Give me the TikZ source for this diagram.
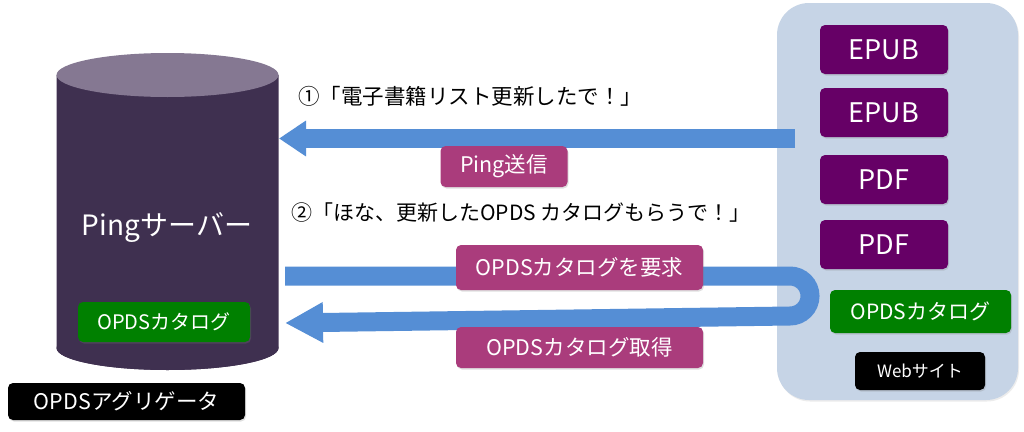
\documentclass[tikz,border=0pt]{standalone}
\usepackage{fontspec}
\setmainfont{Noto Sans CJK JP}
\usetikzlibrary{arrows.meta,shadows}
\definecolor{cylbody}{HTML}{3F3050}
\definecolor{cyltop}{HTML}{857892}
\definecolor{arrowblue}{HTML}{558ED5}
\definecolor{magbox}{HTML}{AA3C7C}
\definecolor{filebox}{HTML}{660066}
\definecolor{catgreen}{HTML}{008000}
\definecolor{panelcol}{HTML}{C6D4E6}
\newcommand{\fs}[1]{\fontsize{#1}{#1}\selectfont}
\tikzset{
  boxbase/.style={rounded corners=5pt, inner sep=0pt, text=white,
    drop shadow={opacity=0.25, shadow xshift=1pt, shadow yshift=-1.5pt}},
  filebox/.style={boxbase, fill=filebox, minimum width=128pt, minimum height=49pt, font=\fs{27}},
  greenbox/.style={boxbase, fill=catgreen},
  blackbox/.style={boxbase, fill=black},
  labelbox/.style={boxbase, fill=magbox, font=\fs{21.5}},
  fatarrow/.style={draw=arrowblue, line width=19pt},
}
\begin{document}
\begin{tikzpicture}[x=1pt,y=-1pt]
\useasboundingbox (0,0) rectangle (1024,431);
\fill[white] (0,0) rectangle (1024,431);
% Website panel
\node[fill=panelcol, rounded corners=32pt, minimum width=241pt, minimum height=397pt,
  inner sep=0pt, drop shadow={opacity=0.15, shadow xshift=1pt, shadow yshift=-1.5pt}] (web) at (897.5,201.5) {};
\node[filebox] (epub1) at (884,49.5) {EPUB};
\node[filebox] (epub2) at (884,112.5) {EPUB};
\node[filebox] (pdf1) at (884,179.5) {PDF};
\node[filebox] (pdf2) at (884,244.5) {PDF};
\node[greenbox, minimum width=181pt, minimum height=43pt, font=\fs{21}] (webcat) at (920.5,311.5) {OPDSカタログ};
\node[blackbox, minimum width=130pt, minimum height=38pt, font=\fs{17}] (websign) at (920,371) {Webサイト};
% Cylinder (server)
\fill[cylbody] (56.5,75) -- (56.5,348) arc[start angle=180, end angle=360, x radius=111, y radius=-22] -- (278.5,75) -- cycle;
\fill[cylbody] (167.5,348) ellipse[x radius=111, y radius=22];
\fill[cyltop] (167.5,75) ellipse[x radius=111, y radius=22];
\node[inner sep=0pt, minimum width=222pt, minimum height=317pt] (srv) at (167.5,211.5) {};
\node[text=white, font=\fs{28}] (srvlabel) at (167,228) {Pingサーバー};
\node[greenbox, minimum width=172pt, minimum height=40pt, font=\fs{20}] (srvcat) at (164,322) {OPDSカタログ};
\node[blackbox, minimum width=237pt, minimum height=37pt, font=\fs{21.5}] (aggr) at (126.5,401.5) {OPDSアグリゲータ};
% Arrows
\coordinate (a1s) at (795,138.5);
\coordinate (a1e) at (279,138.5);
\draw[fatarrow, -{Triangle[length=27pt, width=34pt]}] (a1s) -- (a1e);
\coordinate (a2s) at (285,276);
\coordinate (a2t) at (790,276);
\coordinate (a2e) at (285,323);
\draw[fatarrow, -{Triangle[length=38pt, width=38pt]}] (a2s) -- (a2t) arc[start angle=-90, end angle=90, radius=20] -- (a2e);
% Labels
\node[labelbox, minimum width=127pt, minimum height=41pt] (ping) at (504,166.5) {Ping送信};
\node[labelbox, minimum width=247pt, minimum height=45pt] (req) at (579.5,267.5) {OPDSカタログを要求};
\node[labelbox, minimum width=247pt, minimum height=41pt] (get) at (579.5,347.5) {OPDSカタログ取得};
\node[font=\fs{21.5}] (say1) at (470,96) {①「電子書籍リスト更新したで！」};
\node[font=\fs{21}] (say2) at (521,213) {②「ほな、更新したOPDS カタログもらうで！」};
\end{tikzpicture}
\end{document}
